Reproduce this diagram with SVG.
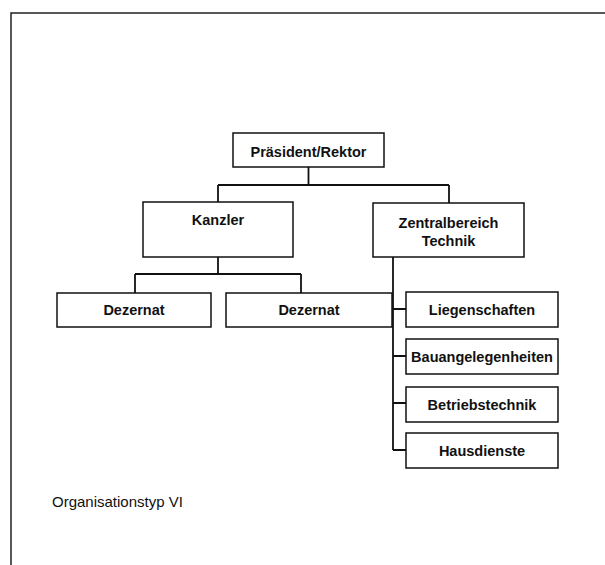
<svg xmlns="http://www.w3.org/2000/svg" width="605" height="565" viewBox="0 0 605 565">
<style>
.box{fill:#fff;stroke:#111;stroke-width:1.5}
.lbl{font-family:"Liberation Sans",Arial,sans-serif;font-weight:bold;font-size:14.5px;fill:#111;text-anchor:middle}
.con{fill:none;stroke:#111;stroke-width:1.8}
</style>
<rect width="605" height="565" fill="#fff"/>
<path d="M11,565 V13 H605" fill="none" stroke="#222" stroke-width="1.5"/>
<g id="connectors" class="con">
<path d="M308.5,167 V185 M218,185 H449 M218,185 V202 M449,185 V203"/>
<path d="M218,257 V274 M135,274 H301 M135,274 V293 M301,274 V293"/>
<path d="M393,257 V450 M393,309 H406 M393,356 H406 M393,403 H406 M393,450 H406"/>
</g>
<g id="praesident"><rect class="box" x="233" y="133" width="151" height="34"/><text class="lbl" x="308.5" y="157">Präsident/Rektor</text></g>
<g id="kanzler"><rect class="box" x="143" y="202" width="150" height="55"/><text class="lbl" x="218" y="225">Kanzler</text></g>
<g id="zentral"><rect class="box" x="373" y="203" width="151" height="54"/><text class="lbl" x="448.5" y="228">Zentralbereich</text><text class="lbl" x="448.5" y="246">Technik</text></g>
<g id="dezernat1"><rect class="box" x="57" y="293" width="154" height="34"/><text class="lbl" x="134" y="315">Dezernat</text></g>
<g id="dezernat2"><rect class="box" x="226" y="293" width="166" height="34"/><text class="lbl" x="309" y="315">Dezernat</text></g>
<g id="liegenschaften"><rect class="box" x="406" y="292" width="152" height="35"/><text class="lbl" x="482" y="315">Liegenschaften</text></g>
<g id="bauangelegenheiten"><rect class="box" x="406" y="339" width="152" height="35"/><text class="lbl" x="482" y="362">Bauangelegenheiten</text></g>
<g id="betriebstechnik"><rect class="box" x="406" y="387" width="152" height="35"/><text class="lbl" x="482" y="410">Betriebstechnik</text></g>
<g id="hausdienste"><rect class="box" x="406" y="433" width="152" height="35"/><text class="lbl" x="482" y="456">Hausdienste</text></g>
<text x="52" y="507" font-family="'Liberation Sans',Arial,sans-serif" font-size="15" fill="#111">Organisationstyp VI</text>
</svg>
